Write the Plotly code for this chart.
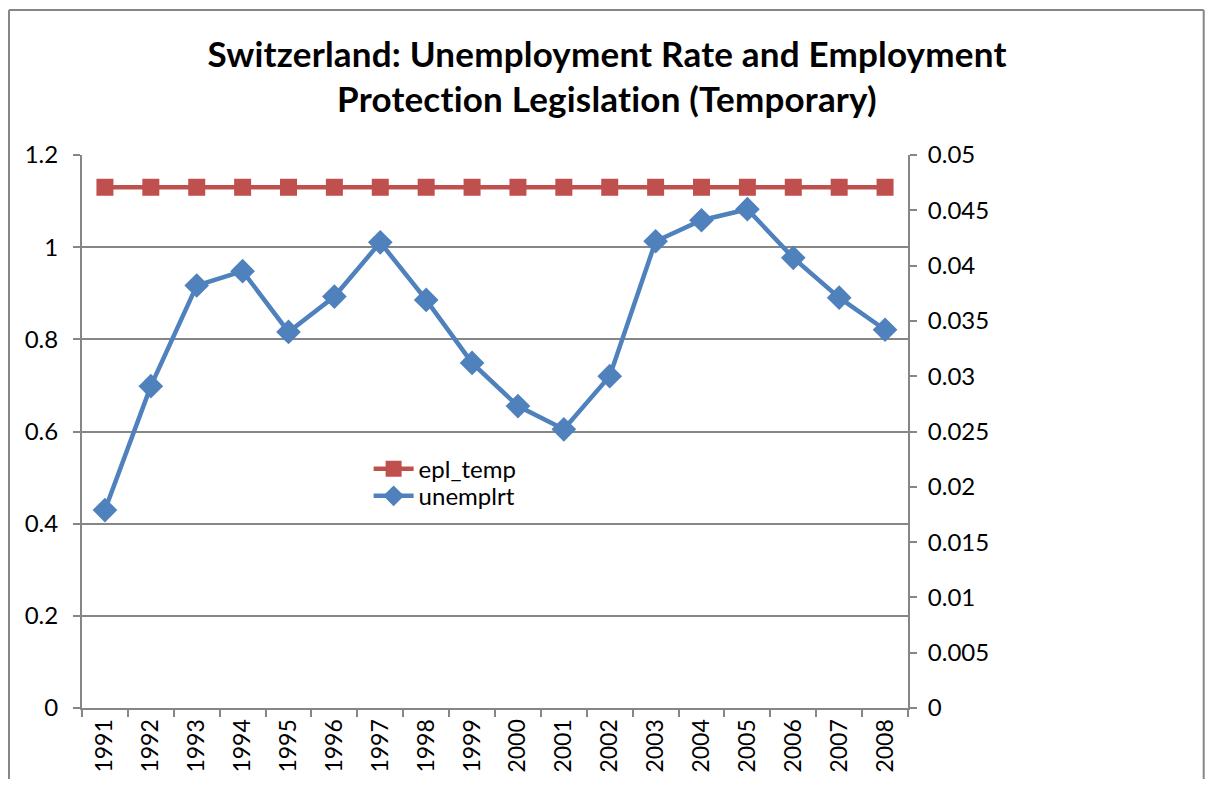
import plotly.graph_objects as go

years = [str(y) for y in range(1991, 2009)]
epl_temp = [1.13] * 18
unemplrt = [0.0179, 0.0291, 0.0382, 0.0395, 0.0340, 0.0372, 0.0421, 0.0369, 0.0312,
            0.0273, 0.0252, 0.0300, 0.0422, 0.0441, 0.0451, 0.0407, 0.0371, 0.0342]

left_ticks = [0, 0.2, 0.4, 0.6, 0.8, 1, 1.2]
left_labels = ["0", "0.2", "0.4", "0.6", "0.8", "1", "1.2"]
right_ticks = [0, 0.005, 0.01, 0.015, 0.02, 0.025, 0.03, 0.035, 0.04, 0.045, 0.05]
right_labels = ["0", "0.005", "0.01", "0.015", "0.02", "0.025", "0.03", "0.035", "0.04", "0.045", "0.05"]

title_text = ('<span style="letter-spacing:0.2px"><b>Switzerland: Unemployment Rate and Employment</b></span><br>'
              '<span style="letter-spacing:0.2px"><b>Protection Legislation (Temporary)</b></span>')

FONT = "Lato"
GRAY = "#868686"
fig = go.Figure()
fig.add_trace(go.Scatter(
    x=years, y=epl_temp, name="epl_temp", mode="lines+markers",
    line=dict(color="#C0504D", width=4.5),
    marker=dict(symbol="square", size=17, color="#C0504D"),
    yaxis="y", legend="legend"))
fig.add_trace(go.Scatter(
    x=years, y=unemplrt, name="unemplrt", mode="lines+markers",
    line=dict(color="#4F81BD", width=4.5),
    marker=dict(symbol="diamond", size=19, color="#4F81BD"),
    yaxis="y2", legend="legend2"))

legend_common = dict(xanchor="left", yanchor="middle", bgcolor="rgba(0,0,0,0)",
                     font=dict(family=FONT, size=24), itemwidth=40)

fig.update_layout(
    width=1198, height=771,
    margin=dict(l=74, r=298, t=147, b=71),
    paper_bgcolor="white", plot_bgcolor="white",
    font=dict(family=FONT, size=24, color="black"),
    title=dict(text=title_text,
               x=0.5, xanchor="center", y=0.924, yanchor="middle",
               font=dict(family=FONT, size=35, color="black")),
    xaxis=dict(type="category", range=[-0.5, 17.5], tickangle=-90,
               showline=True, linecolor=GRAY, linewidth=2,
               ticks="outside", ticklen=7, tickcolor=GRAY, tickwidth=2,
               tickson="boundaries", showgrid=False, automargin=False,
               tickfont=dict(family=FONT, size=23)),
    yaxis=dict(range=[0, 1.2], tickvals=left_ticks, ticktext=left_labels,
               showline=True, linecolor=GRAY, linewidth=2,
               ticks="outside", ticklen=7, tickcolor=GRAY, tickwidth=2,
               ticklabelstandoff=10, automargin=False,
               showgrid=True, gridcolor=GRAY, gridwidth=2, zeroline=False,
               tickfont=dict(family=FONT, size=24)),
    yaxis2=dict(range=[0, 0.05], tickvals=right_ticks, ticktext=right_labels,
                overlaying="y", side="right",
                showline=True, linecolor=GRAY, linewidth=2,
                ticks="outside", ticklen=7, tickcolor=GRAY, tickwidth=2,
                ticklabelstandoff=6, automargin=False,
                showgrid=False, zeroline=False,
                tickfont=dict(family=FONT, size=24)),
    legend=dict(x=0.347, y=0.432, **legend_common),
    legend2=dict(x=0.347, y=0.383, **legend_common),
    showlegend=True,
    shapes=[
        dict(type="line", xref="paper", yref="paper", x0=-0.0884, x1=-0.0884, y0=-0.3, y1=1.262,
             line=dict(color=GRAY, width=2), layer="below"),
        dict(type="line", xref="paper", yref="paper", x0=1.358, x1=1.358, y0=-0.3, y1=1.262,
             line=dict(color=GRAY, width=2), layer="below"),
        dict(type="line", xref="paper", yref="paper", x0=-0.0884, x1=1.358, y0=1.262, y1=1.262,
             line=dict(color=GRAY, width=2), layer="below"),
    ],
)

fig.write_html("out.html")
